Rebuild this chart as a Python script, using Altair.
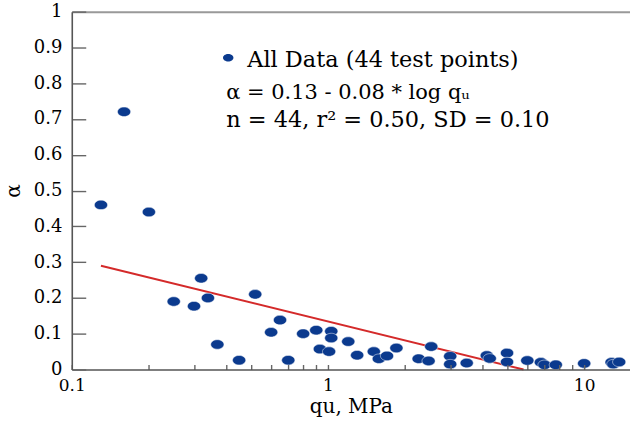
import altair as alt
import pandas as pd

# ---- data ----
qu = [0.13, 0.16, 0.20, 0.25, 0.30, 0.32, 0.34, 0.37, 0.45, 0.52,
      0.60, 0.65, 0.70, 0.80, 0.90, 0.93, 1.01, 1.03, 1.03, 1.20,
      1.30, 1.51, 1.58, 1.70, 1.85, 2.26, 2.47, 2.53, 3.00, 3.00,
      3.48, 4.17, 4.28, 5.00, 5.00, 6.00, 6.78, 7.00, 7.75, 10.0,
      12.8, 13.0, 13.7]
alpha = [0.46, 0.72, 0.44, 0.19, 0.177, 0.255, 0.20, 0.07, 0.026, 0.21,
         0.104, 0.138, 0.026, 0.10, 0.11, 0.057, 0.05, 0.107, 0.088, 0.078,
         0.04, 0.05, 0.03, 0.038, 0.06, 0.03, 0.024, 0.064, 0.037, 0.015,
         0.018, 0.039, 0.031, 0.046, 0.021, 0.025, 0.02, 0.013, 0.013, 0.017,
         0.02, 0.015, 0.021]

fit_qu = [0.13, 5.8]
fit_alpha = [0.29, 0.0]

X_MIN, X_MAX = 0.1, 15.1
y_tick_values = [0, 0.1, 0.2, 0.3, 0.4, 0.5, 0.6, 0.7, 0.8, 0.9, 1.0]
x_label_values = [0.1, 1, 10]
x_tick_values = [0.1, 0.2, 0.3, 0.4, 0.5, 0.6, 0.7, 0.8, 0.9, 1,
                 2, 3, 4, 5, 6, 7, 8, 9, 10]

legend_title = "All Data (44 test points)"
legend_eq = "α = 0.13 - 0.08 * log qᵤ"
legend_stats = "n = 44, r² = 0.50, SD = 0.10"

# ---- styling ----
FONT = "DejaVu Serif"
BLUE = "#0b3a8e"
RED = "#d42a2a"
AXIS_GRAY = "#555555"
TICK_GRAY = "#666666"
TOP_GRAY = "#999999"
W, H = 560, 359
ELLIPSE = "M-1,0 A1,0.72 0 1,0 1,0 A1,0.72 0 1,0 -1,0 Z"

xscale = alt.Scale(type="log", domain=[X_MIN, X_MAX])
yscale = alt.Scale(domain=[0, 1])

x_label_expr = "indexof(%s, datum.value) >= 0 ? datum.label : ''" % str(x_label_values)

xaxis = alt.Axis(values=x_tick_values, format="~g", labelExpr=x_label_expr,
                 ticks=True, tickSize={"expr": "-5"}, tickColor=TICK_GRAY,
                 tickWidth=1.4, tickOpacity=1, grid=False, zindex=1,
                 labelFlush=False, labelOverlap=False, labelPadding=13,
                 labelFont=FONT, labelFontSize=17, labelColor="black",
                 domainColor=AXIS_GRAY, domainWidth=1.6,
                 title="qu, MPa", titleFont=FONT, titleFontSize=20,
                 titleFontWeight="normal", titleColor="black", titlePadding=3)
yaxis = alt.Axis(values=y_tick_values, format=".1~f",
                 ticks=True, tickSize={"expr": "-14"}, tickColor=TICK_GRAY,
                 tickWidth=1.4, tickOpacity=1, grid=False, zindex=1,
                 labelFlush=False, labelOverlap=False, labelPadding=24,
                 labelFont=FONT, labelFontSize=18, labelColor="black",
                 domainColor=AXIS_GRAY, domainWidth=1.6,
                 title="α", titleFont=FONT, titleFontSize=20,
                 titleFontWeight="normal", titleColor="black", titlePadding=10)
top_axis = alt.Axis(orient="top", labels=False, ticks=False, grid=False,
                    title="", domainColor=TOP_GRAY, domainWidth=2, zindex=1)


def X(field):
    return alt.X(field, type="quantitative", scale=xscale, axis=xaxis)


def Y(field):
    return alt.Y(field, type="quantitative", scale=yscale, axis=yaxis)


pts = pd.DataFrame({"qu": qu, "alpha": alpha})
fit = pd.DataFrame({"qu": fit_qu, "alpha": fit_alpha})

scatter = alt.Chart(pts).mark_point(
    shape=ELLIPSE, filled=True, size=175, color=BLUE, opacity=1,
    stroke="white", strokeWidth=0.5
).encode(x=X("qu"), y=Y("alpha"))

line = alt.Chart(fit).mark_line(color=RED, strokeWidth=2).encode(
    x=X("qu"), y=Y("alpha"))

# legend block (positions in data space)
leg_dot = alt.Chart(pd.DataFrame({"qu": [0.408], "alpha": [0.871]})).mark_point(
    shape=ELLIPSE, filled=True, size=110, color=BLUE, opacity=1
).encode(x=X("qu"), y=Y("alpha"))

leg_text = alt.Chart(pd.DataFrame({
    "qu": [0.484, 0.401],
    "alpha": [0.844, 0.677],
    "txt": [legend_title, legend_stats],
})).mark_text(font=FONT, fontSize=22.5, align="left", baseline="alphabetic",
              color="black").encode(x=X("qu"), y=Y("alpha"), text="txt:N")

leg_eq = alt.Chart(pd.DataFrame({
    "qu": [0.401], "alpha": [0.755], "txt": [legend_eq],
})).mark_text(font=FONT, fontSize=21, align="left", baseline="alphabetic",
              color="black").encode(x=X("qu"), y=Y("alpha"), text="txt:N")

main = alt.layer(line, scatter, leg_dot, leg_text, leg_eq)

# light top frame line drawn as a top axis domain
frame_top = alt.Chart(pd.DataFrame({"qu": [X_MIN, X_MAX]})).mark_point(opacity=0).encode(
    x=alt.X("qu", type="quantitative", scale=xscale, axis=top_axis))

chart = alt.layer(main, frame_top).resolve_axis(x="independent").properties(
    width=W, height=H,
    autosize=alt.AutoSizeParams(type="none"),
    padding={"left": 72, "top": 11, "right": 0, "bottom": 51},
    background="white",
).configure_view(stroke=None)

chart.save("out.html", embed_options={"renderer": "svg", "actions": False})
